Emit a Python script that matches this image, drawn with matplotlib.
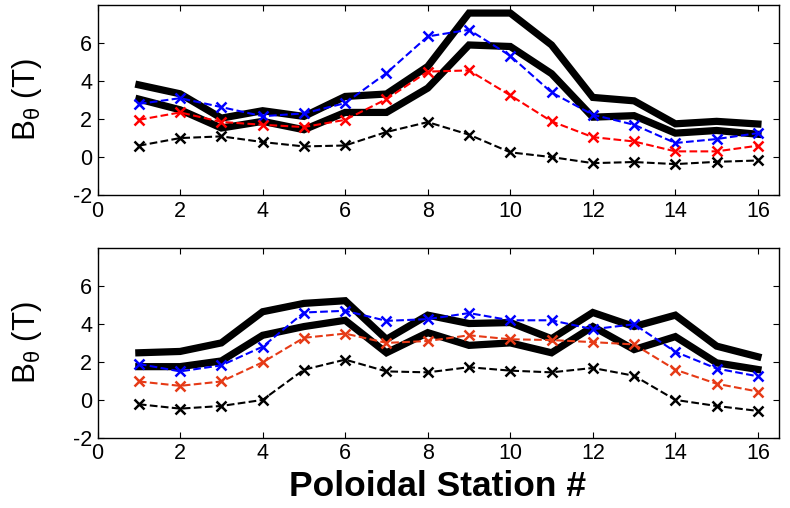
import numpy as np
import matplotlib
matplotlib.use('Agg')
import matplotlib.pyplot as plt

plt.rcParams['font.family'] = ['Liberation Sans', 'DejaVu Sans']
plt.rcParams['mathtext.fontset'] = 'custom'
plt.rcParams['mathtext.rm'] = 'Liberation Sans'
plt.rcParams['mathtext.it'] = 'Liberation Sans'
plt.rcParams['axes.unicode_minus'] = False

stations = np.arange(1, 17)

# top panel
top_thick_hi = [3.8, 3.33, 2.05, 2.44, 2.14, 3.19, 3.32, 4.77, 7.58, 7.58, 5.9, 3.14, 2.96, 1.75, 1.88, 1.74]
top_thick_lo = [3.05, 2.49, 1.53, 1.88, 1.44, 2.35, 2.35, 3.63, 5.9, 5.82, 4.39, 2.1, 2.18, 1.26, 1.4, 1.2]
top_blue = [2.8, 3.1, 2.63, 2.15, 2.3, 2.84, 4.42, 6.35, 6.7, 5.33, 3.4, 2.23, 1.7, 0.74, 0.95, 1.26]
top_red = [1.96, 2.35, 1.85, 1.7, 1.58, 1.96, 3.05, 4.5, 4.56, 3.25, 1.88, 1.05, 0.82, 0.3, 0.3, 0.6]
top_black = [0.6, 1.0, 1.09, 0.79, 0.56, 0.61, 1.32, 1.84, 1.18, 0.25, 0.0, -0.32, -0.26, -0.37, -0.25, -0.18]

# bottom panel
bot_thick_hi = [2.48, 2.55, 3.0, 4.64, 5.08, 5.22, 3.19, 4.46, 4.02, 4.07, 3.22, 4.6, 3.86, 4.46, 2.83, 2.27]
bot_thick_lo = [1.75, 1.75, 2.05, 3.4, 3.86, 4.19, 2.48, 3.54, 2.87, 3.0, 2.48, 3.86, 2.65, 3.33, 1.95, 1.6]
bot_blue = [1.89, 1.5, 1.82, 2.8, 4.6, 4.69, 4.16, 4.25, 4.57, 4.19, 4.19, 3.72, 3.98, 2.53, 1.65, 1.24]
bot_red = [0.97, 0.74, 0.97, 1.98, 3.27, 3.49, 3.0, 3.1, 3.4, 3.19, 3.15, 3.04, 2.92, 1.59, 0.85, 0.44]
bot_black = [-0.23, -0.46, -0.32, 0.0, 1.59, 2.12, 1.5, 1.45, 1.72, 1.54, 1.45, 1.68, 1.27, 0.0, -0.32, -0.58]

panels = [
    (top_thick_hi, top_thick_lo, top_blue, top_red, top_black, '#ff0000'),
    (bot_thick_hi, bot_thick_lo, bot_blue, bot_red, bot_black, '#e63a16'),
]

fig = plt.figure(figsize=(7.9, 5.08), dpi=100)
boxes = [[0.1235, 0.616, 0.862, 0.374], [0.1235, 0.138, 0.862, 0.374]]

for box, (hi, lo, blue, red, blk, red_col) in zip(boxes, panels):
    ax = fig.add_axes(box)
    ax.plot(stations, hi, color='black', lw=5.2, solid_joinstyle='miter')
    ax.plot(stations, lo, color='black', lw=5.2, solid_joinstyle='miter')
    ax.plot(stations, blue, '--x', color='#0000ff', lw=1.5, ms=7, mew=1.8)
    ax.plot(stations, red, '--x', color=red_col, lw=1.5, ms=7, mew=1.8)
    ax.plot(stations, blk, '--x', color='black', lw=1.5, ms=7, mew=1.8)
    ax.set_xlim(0, 16.5)
    ax.set_ylim(-2, 8)
    ax.set_xticks(range(0, 17, 2))
    ax.set_yticks(range(-2, 7, 2))
    ax.tick_params(direction='in', top=True, right=True, labelsize=15.5, length=4, pad=4)
    ax.set_ylabel(r'B$_\theta$ (T)', fontsize=22.5, labelpad=21)
    for s in ax.spines.values():
        s.set_linewidth(1.0)

ax.set_xlabel('Poloidal Station #', fontsize=25.5, fontweight='bold', labelpad=4)

fig.savefig('out.png', dpi=100)
